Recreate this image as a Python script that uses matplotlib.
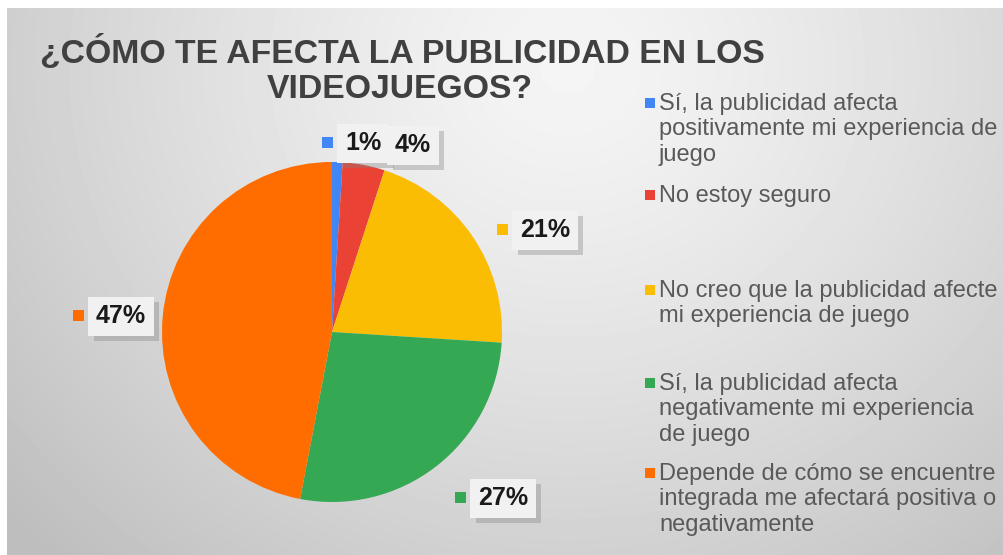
import matplotlib
matplotlib.use('Agg')
import matplotlib.pyplot as plt
import matplotlib.patheffects as pe
from matplotlib.patches import Rectangle
import numpy as np

# *************************************************************************
# Survey data

title_lines = ['¿CÓMO TE AFECTA LA PUBLICIDAD EN LOS', 'VIDEOJUEGOS?']
categories = [
    'Sí, la publicidad afecta\npositivamente mi experiencia de\njuego',
    'No estoy seguro',
    'No creo que la publicidad afecte\nmi experiencia de juego',
    'Sí, la publicidad afecta\nnegativamente mi experiencia\nde juego',
    'Depende de cómo se encuentre\nintegrada me afectará positiva o\nnegativamente',
]
shares = [1, 4, 21, 27, 47]
colors = ['#4285f4', '#ea4335', '#fbbc04', '#34a853', '#ff6d01']

# label anchors in pixels (x, y from top) for the percentage boxes
label_pos = [(345, 143), (395, 145), (520, 230), (478, 498), (96, 316)]
# legend rows in pixels (y of the first text line, from top)
legend_y = [103, 195, 290, 383, 473]

W, H = 1004, 555
plt.rcParams['font.family'] = ['Liberation Sans', 'DejaVu Sans']


def fx(px):
    return px / W


def fy(py):
    return 1 - py / H


fig = plt.figure(figsize=(W / 100, H / 100), dpi=100)
fig.patch.set_facecolor('white')

# Background: soft radial grey gradient
bg = fig.add_axes([fx(7), 0, 1 - fx(7), 1 - 8 / H])
yy, xx = np.mgrid[0:H - 8, 0:W - 7]
d = np.sqrt(((xx - 560) / 620.0) ** 2 + ((yy - 60) / 560.0) ** 2)
shade = 0.96 - 0.17 * np.clip(d, 0, 1.2) ** 1.3
bg.imshow(shade, cmap='gray', vmin=0, vmax=1, aspect='auto', interpolation='bilinear')
bg.axis('off')

# Pie
ax = fig.add_axes([fx(162), fy(502), fx(340), 340 / H])
ax.pie(shares, colors=colors, startangle=90, counterclock=False, radius=1,
       wedgeprops=dict(linewidth=0))
ax.set_xlim(-1, 1)
ax.set_ylim(-1, 1)
ax.set_aspect('equal')
ax.axis('off')

# Title
fig.text(fx(402), fy(52), title_lines[0], ha='center', va='center',
         fontsize=24.3, fontweight='bold', color='#404040')
fig.text(fx(400), fy(89), title_lines[1], ha='center', va='center',
         fontsize=24.3, fontweight='bold', color='#404040')

# Percentage labels with shadowed boxes
for (px, py), val, c in zip(label_pos, shares, colors):
    fig.patches.append(Rectangle((fx(px - 23), fy(py + 5)), fx(11), 11 / H,
                                 transform=fig.transFigure, facecolor=c,
                                 edgecolor='none'))
    t = fig.text(fx(px), fy(py), f'{val}%', ha='left', va='center',
                 fontsize=18, fontweight='bold', color='#1a1a1a',
                 bbox=dict(boxstyle='square,pad=0.3', facecolor='#f1f1f1',
                           edgecolor='none'))
    t.get_bbox_patch().set_path_effects([
        pe.SimplePatchShadow(offset=(4, -4), shadow_rgbFace='#808080', alpha=0.35),
        pe.Normal()])

# Legend
for cat, c, ly in zip(categories, colors, legend_y):
    fig.patches.append(Rectangle((fx(645), fy(ly + 5)), fx(10), 10 / H,
                                 transform=fig.transFigure, facecolor=c,
                                 edgecolor='none'))
    fig.text(fx(659), fy(ly - 10), cat, ha='left', va='top', fontsize=17,
             color='#595959', linespacing=1.2)

fig.savefig('out.png', dpi=100)
